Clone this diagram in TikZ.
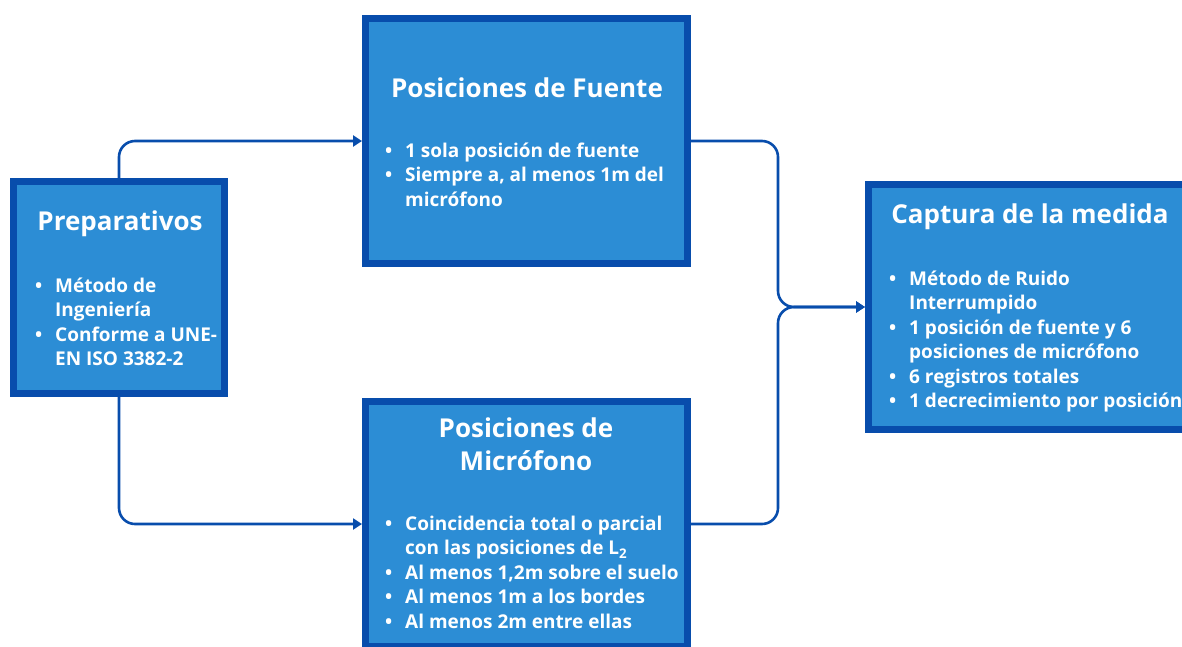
\documentclass[tikz,border=0pt]{standalone}
\usepackage{fontspec}
\setmainfont{Open Sans}
\usetikzlibrary{arrows.meta}

\definecolor{boxfill}{RGB}{44,141,213}
\definecolor{boxline}{RGB}{8,77,172}
\newcommand{\bul}{\makebox[20pt][l]{\textbullet}}
\newcommand{\ind}{\hspace*{20pt}}

\begin{document}
\begin{tikzpicture}[x=1pt,y=-1pt,
    box/.style={draw=boxline, fill=boxfill, line width=7pt, inner sep=0pt},
    ttl/.style={text=white, font=\bfseries\fontsize{26}{33}\selectfont, inner sep=0pt},
    lst/.style={text=white, font=\bfseries\fontsize{19}{24.5}\selectfont, anchor=north west, align=left, inner sep=0pt},
    link/.style={draw=boxline, line width=2.6pt, rounded corners=16pt, -{Triangle[length=9pt,width=11pt]}}]

      \useasboundingbox (0,0) rectangle (1182,646);
      \clip (0,0) rectangle (1182,646);

      %%% boxes %%%
      \node (prep) at (119,287.5) [box, minimum width=211pt, minimum height=212pt] {};
      \node (fuente) at (526.5,141) [box, minimum width=322pt, minimum height=245pt] {};
      \node (micro) at (526.5,524) [box, minimum width=322pt, minimum height=245pt] {};
      \node (captura) at (1034.25,307) [box, minimum width=331.5pt, minimum height=245pt] {};

      %%% titles %%%
      \node (prepT) at (120,230) [ttl, anchor=base] {Preparativos};
      \node (fuenteT) at (527,97) [ttl, anchor=base] {Posiciones de Fuente};
      \node (microT) at (526,413.9) [ttl, anchor=north, align=center] {\strut Posiciones de\\Micrófono};
      \node (capturaT) at (1030,223) [ttl, anchor=base] {Captura de la medida};

      %%% lists %%%
      \node (prepL) at (35,274.85) [lst]
      {\strut\bul Método de\\\ind Ingeniería\\\bul Conforme a UNE-\\\ind EN ISO 3382-2};
      \node (fuenteL) at (385,139.85) [lst]
      {\strut\bul 1 sola posición de fuente\\\bul Siempre a, al menos 1m del\\\ind micrófono};
      \node (microL) at (385,512.85) [lst]
      {\strut\bul Coincidencia total o parcial\\\ind con las posiciones de L\textsubscript{2}\\\bul Al menos 1,2m sobre el suelo\\\bul Al menos 1m a los bordes\\\bul Al menos 2m entre ellas};
      \node (capturaL) at (889,267.85) [lst]
      {\strut\bul Método de Ruido\\\ind Interrumpido\\\bul 1 posición de fuente y 6\\\ind posiciones de micrófono\\\bul 6 registros totales\\\bul 1 decrecimiento por posición};

      % connectors
      \coordinate (jn) at (778,307);
      \draw[link] (prep.north) |- (fuente.west);
      \draw[link] (prep.south) |- (micro.west);
      \draw[link] (fuente.east) -| (jn) -- (captura.west);
      \draw[link] (micro.east) -| (jn) -- (captura.west);

\end{tikzpicture}
\end{document}
